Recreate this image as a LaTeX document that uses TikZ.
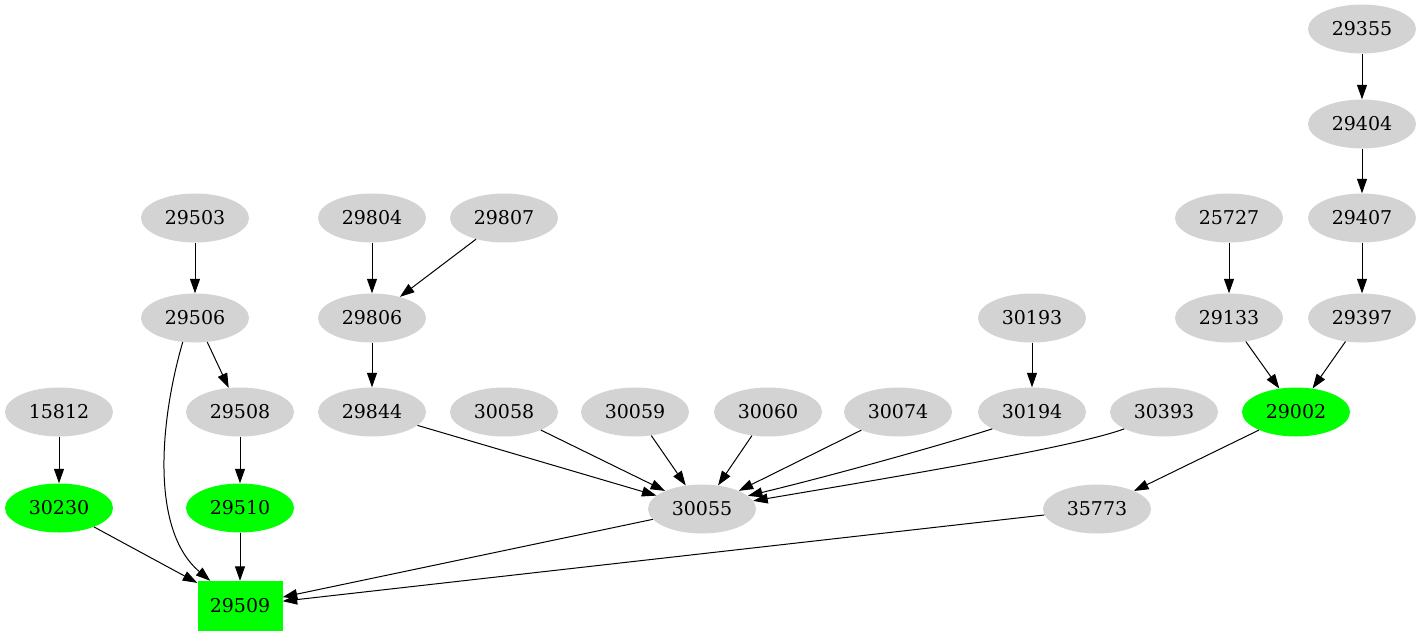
\documentclass[tikz,border=0pt]{standalone}
\usepackage{fontspec}
\setmainfont{DejaVu Serif}
\usetikzlibrary{shapes.geometric,arrows.meta}
\definecolor{nodegray}{RGB}{211,211,211}
\definecolor{nodegreen}{RGB}{0,255,0}
\tikzset{
  gnode/.style={ellipse, fill=nodegray, minimum width=108pt, minimum height=49pt, inner sep=0pt, font=\fontsize{19pt}{21pt}\selectfont},
  greennode/.style={gnode, fill=nodegreen},
  boxnode/.style={rectangle, fill=nodegreen, minimum width=85pt, minimum height=50pt, inner sep=0pt, font=\fontsize{19pt}{21pt}\selectfont},
  edge/.style={draw=black, line width=1pt, -{Triangle[length=14.5pt,width=10pt]}}
}
\begin{document}
\begin{tikzpicture}[x=1pt,y=-1pt]
\useasboundingbox (0,0) rectangle (1421,635);
\node[gnode] (n29355) at (1362,29) {29355};
\node[gnode] (n29404) at (1362,124) {29404};
\node[gnode] (n29407) at (1362,218) {29407};
\node[gnode] (n29397) at (1362,318) {29397};
\node[gnode] (n25727) at (1229,218) {25727};
\node[gnode] (n29133) at (1229,318) {29133};
\node[greennode] (n29002) at (1296,412) {29002};
\node[gnode] (n35773) at (1097,509) {35773};
\node[gnode] (n30193) at (1032,318) {30193};
\node[gnode] (n30194) at (1032,412) {30194};
\node[gnode] (n30393) at (1164,412) {30393};
\node[gnode] (n30074) at (898,412) {30074};
\node[gnode] (n30060) at (768,412) {30060};
\node[gnode] (n30059) at (635,412) {30059};
\node[gnode] (n30058) at (504,412) {30058};
\node[gnode] (n29844) at (372,412) {29844};
\node[gnode] (n29806) at (372,318) {29806};
\node[gnode] (n29804) at (372,218) {29804};
\node[gnode] (n29807) at (504,218) {29807};
\node[gnode] (n29503) at (195,218) {29503};
\node[gnode] (n29506) at (195,318) {29506};
\node[gnode] (n29508) at (240,412) {29508};
\node[greennode] (n29510) at (240,508) {29510};
\node[gnode] (n15812) at (59,412) {15812};
\node[greennode] (n30230) at (59,508) {30230};
\node[gnode] (n30055) at (702,509) {30055};
\node[boxnode] (n29509) at (240,606) {29509};

\draw[edge] (n29355) -- (n29404);
\draw[edge] (n29404) -- (n29407);
\draw[edge] (n29407) -- (n29397);
\draw[edge] (n29397) -- (n29002);
\draw[edge] (n25727) -- (n29133);
\draw[edge] (n29133) -- (n29002);
\draw[edge] (n29002) -- (n35773);
\draw[edge] (n35773) -- (n29509);
\draw[edge] (n30193) -- (n30194);
\draw[edge] (n30194.-157) .. controls (935,447) and (830,476) .. (n30055.16);
\draw[edge] (n30393.-157) .. controls (1075,447) and (900,476) .. (n30055.9);
\draw[edge] (n30074) -- (n30055);
\draw[edge] (n30060) -- (n30055);
\draw[edge] (n30059) -- (n30055);
\draw[edge] (n30058) -- (n30055);
\draw[edge] (n29844) -- (n30055);
\draw[edge] (n30055) -- (n29509);
\draw[edge] (n29806) -- (n29844);
\draw[edge] (n29804) -- (n29806);
\draw[edge] (n29807) -- (n29806);
\draw[edge] (n29503) -- (n29506);
\draw[edge] (n29506.-63) -- (n29508);
\draw[edge] (n29506.-117) .. controls (160,420) and (150,530) .. ([xshift=13pt]n29509.north west);
\draw[edge] (n29508) -- (n29510);
\draw[edge] (n29510) -- (n29509);
\draw[edge] (n15812) -- (n30230);
\draw[edge] (n30230) -- (n29509);
\end{tikzpicture}
\end{document}
